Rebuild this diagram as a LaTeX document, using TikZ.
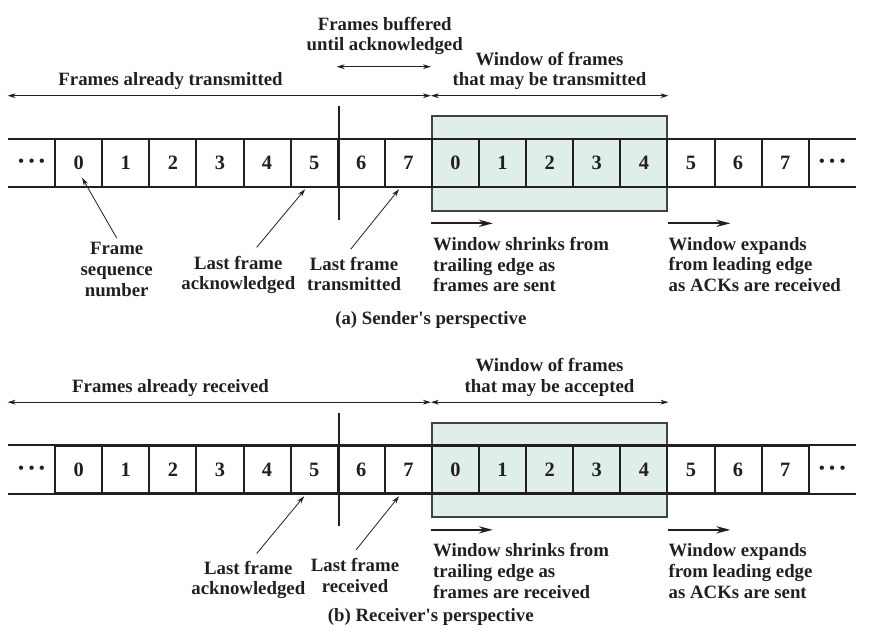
\documentclass[tikz,border=0pt]{standalone}
\usepackage{fontspec}
\setmainfont{Liberation Serif}
\usetikzlibrary{arrows.meta}
\definecolor{winfill}{HTML}{DFEEEA}
\definecolor{ink}{HTML}{231F20}
\newcommand{\tapedots}{\scalebox{0.85}{•}\hspace{2.4pt}\scalebox{0.85}{•}\hspace{2.4pt}\scalebox{0.85}{•}}

\begin{document}
\begin{tikzpicture}[x=0.5pt, y=-0.5pt,
        every node/.style={font=\bfseries\fontsize{9.4}{10.4}\selectfont, text=ink},
        cell/.style={draw=ink, line width=1pt, minimum width=23.55pt, minimum height=23.7pt, inner sep=0pt, font=\bfseries\fontsize{10.2}{12}\selectfont},
        dotcell/.style={minimum width=23.55pt, minimum height=23.7pt, inner sep=0pt},
        window/.style={draw=ink!85, fill=winfill, line width=1pt, minimum width=117.75pt, minimum height=47.35pt},
        tag/.style={align=center, inner sep=0pt},
        note/.style={align=left, inner sep=0pt, anchor=west},
        span/.style={{Stealth[length=4pt,width=2.4pt]}-{Stealth[length=4pt,width=2.4pt]}, line width=0.4pt, draw=ink},
        pointer/.style={-{Stealth[length=4pt,width=2.4pt]}, line width=0.4pt, draw=ink},
        move/.style={-{Stealth[length=7pt,width=3.6pt]}, line width=1pt, draw=ink},
        tape/.style={line width=1pt, draw=ink}
    ]
    \useasboundingbox (0,0) rectangle (883,636);

    % (a) Sender
    \node[window] (winA) at (549.6,163.4) {};

    \node[dotcell] (s0) at (31.55,163) {\tapedots};
    \node[cell] (s1) at (78.65,163) {0};
    \node[cell] (s2) at (125.75,163) {1};
    \node[cell] (s3) at (172.85,163) {2};
    \node[cell] (s4) at (219.95,163) {3};
    \node[cell] (s5) at (267.05,163) {4};
    \node[cell] (s6) at (314.15,163) {5};
    \node[cell] (s7) at (361.25,163) {6};
    \node[cell] (s8) at (408.35,163) {7};
    \node[cell] (s9) at (455.45,163) {0};
    \node[cell] (s10) at (502.55,163) {1};
    \node[cell] (s11) at (549.65,163) {2};
    \node[cell] (s12) at (596.75,163) {3};
    \node[cell] (s13) at (643.85,163) {4};
    \node[cell] (s14) at (690.95,163) {5};
    \node[cell] (s15) at (738.05,163) {6};
    \node[cell] (s16) at (785.15,163) {7};
    \node[dotcell] (s17) at (832.25,163) {\tapedots};
    \draw[tape] (s0.north west) -- (s17.north east);
    \draw[tape] (s0.south west) -- (s17.south east);
    \draw[tape] ([shift={(0,-32)}]s6.north east) -- ([shift={(0,32)}]s6.south east);

    \node[tag] (buffered) at (384.7,36) {Frames buffered\\until acknowledged};
    \node[tag, anchor=base] (sent) at (170.5,85.5) {Frames already transmitted};
    \node[tag] (sendwin) at (549.5,71) {Window of frames\\that may be transmitted};
    \coordinate (bufA) at (0,66.7);
    \coordinate (spanA) at (0,95.7);
    \draw[span] (s7.west |- bufA) -- (s9.west |- bufA);
    \draw[span] (s0.west |- spanA) -- (s9.west |- spanA);
    \draw[span] (s9.west |- spanA) -- (s13.east |- spanA);

    \node[tag] (seqnum) at (116.7,269.5) {Frame\\sequence\\number};
    \node[tag] (lastackA) at (238.3,275) {Last frame\\acknowledged};
    \node[tag] (lasttx) at (354,274) {Last frame\\transmitted};
    \draw[pointer] ([shift={(0,-4)}]seqnum.north) -- ([shift={(3.4,-10)}]s1.south);
    \draw[pointer] ([shift={(18.4,-8.2)}]lastackA.north) -- ([shift={(-9,1.5)}]s6.south);
    \draw[pointer] ([shift={(-3.3,-7.3)}]lasttx.north) -- ([shift={(-9.3,1.5)}]s8.south);

    \draw[move] ([shift={(0,11.6)}]winA.south west) -- ++(62,0);
    \draw[move] ([shift={(0,11.6)}]winA.south east) -- ++(62,0);
    \node[note] (shrinkA) at (432.7,264.5) {Window shrinks from\\trailing edge as\\frames are sent};
    \node[note] (expandA) at (668.3,264.5) {Window expands\\from leading edge\\as ACKs are received};

    \node[anchor=base, inner sep=0pt] (captionA) at (430.8,324) {(a) Sender\textquotesingle s perspective};

    % (b) Receiver
    \node[window] (winB) at (549.6,469.9) {};

    \node[dotcell] (r0) at (31.55,469.5) {\tapedots};
    \node[cell] (r1) at (78.65,469.5) {0};
    \node[cell] (r2) at (125.75,469.5) {1};
    \node[cell] (r3) at (172.85,469.5) {2};
    \node[cell] (r4) at (219.95,469.5) {3};
    \node[cell] (r5) at (267.05,469.5) {4};
    \node[cell] (r6) at (314.15,469.5) {5};
    \node[cell] (r7) at (361.25,469.5) {6};
    \node[cell] (r8) at (408.35,469.5) {7};
    \node[cell] (r9) at (455.45,469.5) {0};
    \node[cell] (r10) at (502.55,469.5) {1};
    \node[cell] (r11) at (549.65,469.5) {2};
    \node[cell] (r12) at (596.75,469.5) {3};
    \node[cell] (r13) at (643.85,469.5) {4};
    \node[cell] (r14) at (690.95,469.5) {5};
    \node[cell] (r15) at (738.05,469.5) {6};
    \node[cell] (r16) at (785.15,469.5) {7};
    \node[dotcell] (r17) at (832.25,469.5) {\tapedots};
    \draw[tape] (r0.north west) -- (r17.north east);
    \draw[tape] (r0.south west) -- (r17.south east);
    \draw[tape] ([shift={(0,-32)}]r6.north east) -- ([shift={(0,32)}]r6.south east);

    \node[tag, anchor=base] (received) at (170.5,392) {Frames already received};
    \node[tag] (recvwin) at (549.5,377.5) {Window of frames\\that may be accepted};
    \coordinate (spanB) at (0,402.2);
    \draw[span] (r0.west |- spanB) -- (r9.west |- spanB);
    \draw[span] (r9.west |- spanB) -- (r13.east |- spanB);

    \node[tag] (lastackB) at (248.3,580) {Last frame\\acknowledged};
    \node[tag] (lastrx) at (355,575.5) {Last frame\\received};
    \draw[pointer] ([shift={(8.4,-7)}]lastackB.north) -- ([shift={(-10,2)}]r6.south);
    \draw[pointer] ([shift={(1,-8)}]lastrx.north) -- ([shift={(-9.3,2)}]r8.south);

    \draw[move] ([shift={(0,11.6)}]winB.south west) -- ++(62,0);
    \draw[move] ([shift={(0,11.6)}]winB.south east) -- ++(62,0);
    \node[note] (shrinkB) at (432.7,571) {Window shrinks from\\trailing edge as\\frames are received};
    \node[note] (expandB) at (668.3,571) {Window expands\\from leading edge\\as ACKs are sent};

    \node[anchor=base, inner sep=0pt] (captionB) at (430.8,621.7) {(b) Receiver\textquotesingle s perspective};
\end{tikzpicture}
\end{document}
